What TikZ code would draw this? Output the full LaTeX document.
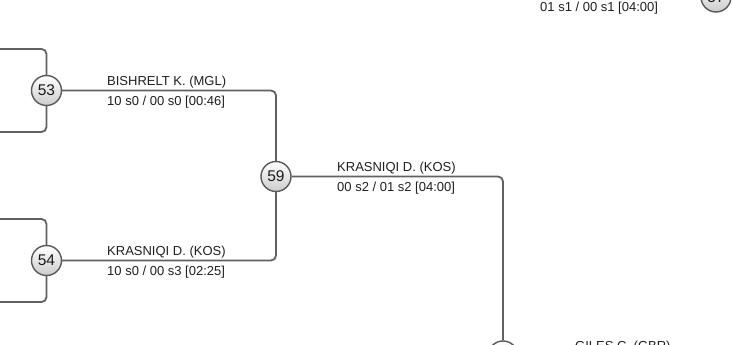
\documentclass[tikz,border=0pt]{standalone}
\usepackage{fontspec}
\setmainfont{Liberation Sans}
\begin{document}
\begin{tikzpicture}[x=1pt,y=-1pt,
  conn/.style={draw=black!62,line width=1.8pt,rounded corners=5pt},
  match/.style={circle,draw=black!65,line width=1.4pt,minimum size=30pt,inner sep=0pt,
    top color=white,bottom color=black!20,font=\fontsize{15.5}{16}\selectfont,text=black!90},
  lbl/.style={anchor=base west,inner sep=0pt,font=\fontsize{13}{14}\selectfont,text=black!88}]
\useasboundingbox (0,0) rectangle (732,345);
% coordinates of free ends
\coordinate (a53) at (0,49);
\coordinate (b53) at (0,132);
\coordinate (a54) at (0,219);
\coordinate (b54) at (0,302);
\coordinate (aT) at (479,-3);
% match circles
\node[match] (c53) at (46.5,90.5) {53};
\node[match] (c54) at (46.5,260.5) {54};
\node[match] (c59) at (276,176.5) {59};
\node[match] (cB) at (503,356) {};
\node[match] (cT) at (716,-3) {57};
% connectors
\draw[conn] (a53) -| (c53);
\draw[conn] (b53) -| (c53);
\draw[conn] (a54) -| (c54);
\draw[conn] (b54) -| (c54);
\draw[conn] (c53) -| (c59);
\draw[conn] (c54) -| (c59);
\draw[conn] (c59) -| (cB);
\draw[conn] (aT) -- (cT);
% labels
\node[lbl] (n53) at (107,85.6) {BISHRELT K. (MGL)};
\node[lbl] (s53) at (107,105.6) {10 s0 / 00 s0 [00:46]};
\node[lbl] (n54) at (107,255.6) {KRASNIQI D. (KOS)};
\node[lbl] (s54) at (107,275.6) {10 s0 / 00 s3 [02:25]};
\node[lbl] (n59) at (337,171.6) {KRASNIQI D. (KOS)};
\node[lbl] (s59) at (337,191.6) {00 s2 / 01 s2 [04:00]};
\node[lbl] (sT) at (540,11.6) {01 s1 / 00 s1 [04:00]};
\node[lbl] (nB) at (575,350.6) {GILES C. (GBR)};
\end{tikzpicture}
\end{document}
